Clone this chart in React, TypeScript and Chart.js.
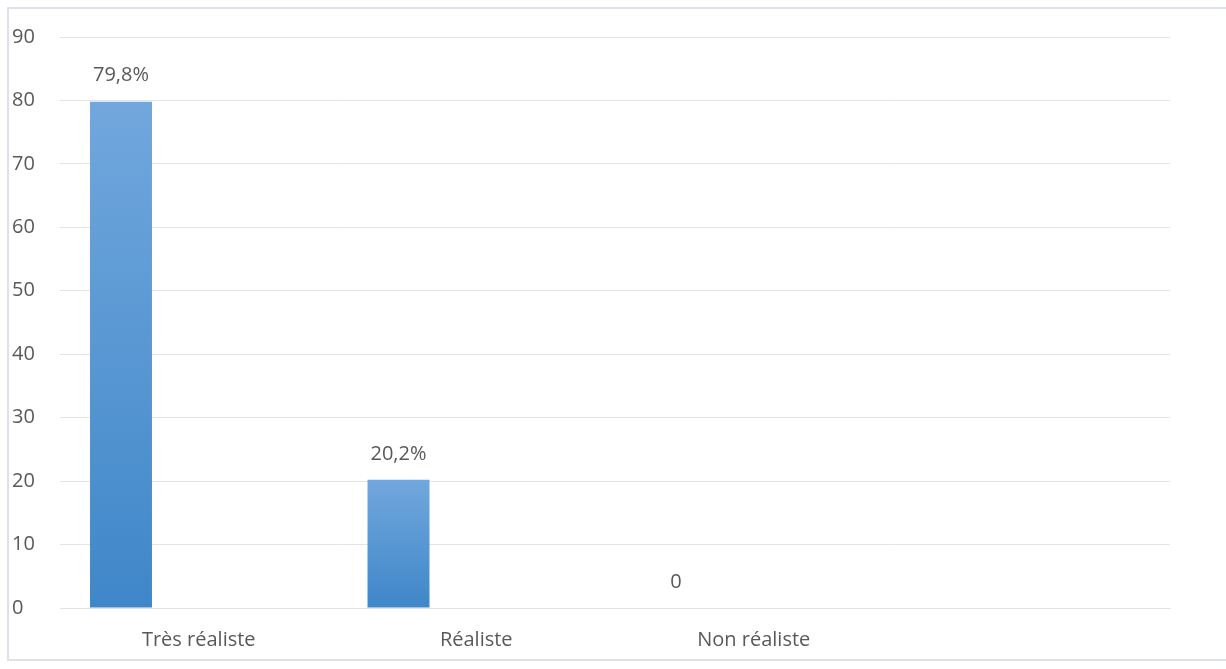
import React, { useEffect, useRef } from "react";
import { Chart, registerables } from "chart.js";

Chart.register(...registerables);

const categories = ["Très réaliste", "Réaliste", "Non réaliste", ""];
const values = [79.8, 20.2, 0, null];
const valueLabels = ["79,8%", "20,2%", "0", ""];
const emptySeries = [null, null, null, null];
const yTicks = [0, 10, 20, 30, 40, 50, 60, 70, 80, 90];

const FONT = "'Open Sans', sans-serif";
const TEXT = "#595959";
const FS = 20;

const labelPlugin = {
  id: "valueLabels",
  afterDatasetsDraw(chart: any) {
    const meta = chart.getDatasetMeta(0);
    const ctx = chart.ctx;
    ctx.save();
    ctx.fillStyle = TEXT;
    ctx.font = `${FS}px ${FONT}`;
    ctx.textAlign = "center";
    ctx.textBaseline = "middle";
    meta.data.forEach((bar: any, i: number) => {
      if (values[i] === null || !valueLabels[i]) return;
      ctx.fillText(valueLabels[i], bar.x, bar.y - 26);
    });
    ctx.restore();
  },
};

export default function App() {
  const ref = useRef<HTMLCanvasElement>(null);
  useEffect(() => {
    if (!ref.current) return;
    const chart = new Chart(ref.current, {
      type: "bar",
      data: {
        labels: categories,
        datasets: [
          {
            data: values as any,
            backgroundColor: (c: any) => {
              const ch = c.chart;
              const y = ch.scales?.y;
              const v = c.raw;
              if (!y || v === null || v === undefined) return "#5b9bd5";
              const top = y.getPixelForValue(v);
              const bottom = y.getPixelForValue(0);
              if (!(bottom > top)) return "#5b9bd5";
              const g = ch.ctx.createLinearGradient(0, top, 0, bottom);
              g.addColorStop(0, "#71a7dd");
              g.addColorStop(1, "#3f87c9");
              return g;
            },
            categoryPercentage: 0.8405,
            barPercentage: 0.797,
          },
          { data: emptySeries as any, categoryPercentage: 0.8405, barPercentage: 0.797 },
          { data: emptySeries as any, categoryPercentage: 0.8405, barPercentage: 0.797 },
        ],
      },
      options: {
        animation: false,
        responsive: false,
        maintainAspectRatio: false,
        layout: { padding: { top: 37, right: 56, left: 12, bottom: 0 } },
        plugins: { legend: { display: false }, tooltip: { enabled: false }, title: { display: false } },
        scales: {
          x: {
            grid: { display: false, drawTicks: false },
            border: { display: true, color: "#dfe3e8", width: 1 },
            ticks: { color: TEXT, font: { family: FONT, size: FS }, padding: 20, maxRotation: 0, autoSkip: false },
            afterFit: (s: any) => {
              s.height = 61;
            },
          },
          y: {
            min: 0,
            max: 90,
            afterBuildTicks: (s: any) => {
              s.ticks = yTicks.map((v) => ({ value: v }));
            },
            grid: { color: "#e1e5ea", lineWidth: 1, drawTicks: false },
            border: { display: false },
            ticks: {
              color: TEXT,
              font: { family: FONT, size: FS },
              crossAlign: "far",
              padding: 10,
            },
            afterFit: (s: any) => {
              s.width = 48;
            },
          },
        },
      },
      plugins: [labelPlugin],
    } as any);
    return () => chart.destroy();
  }, []);
  return (
    <div style={{ position: "fixed", left: 0, top: 0, width: 1226, height: 669, background: "#fff", overflow: "hidden" }}>
      <div
        style={{
          position: "absolute",
          left: 7,
          top: 7,
          width: 1260,
          height: 654,
          border: "2px solid #dde1e8",
          boxSizing: "border-box",
        }}
      />
      <canvas ref={ref} width={1226} height={669} style={{ position: "absolute", left: 0, top: 0 }} />
    </div>
  );
}
